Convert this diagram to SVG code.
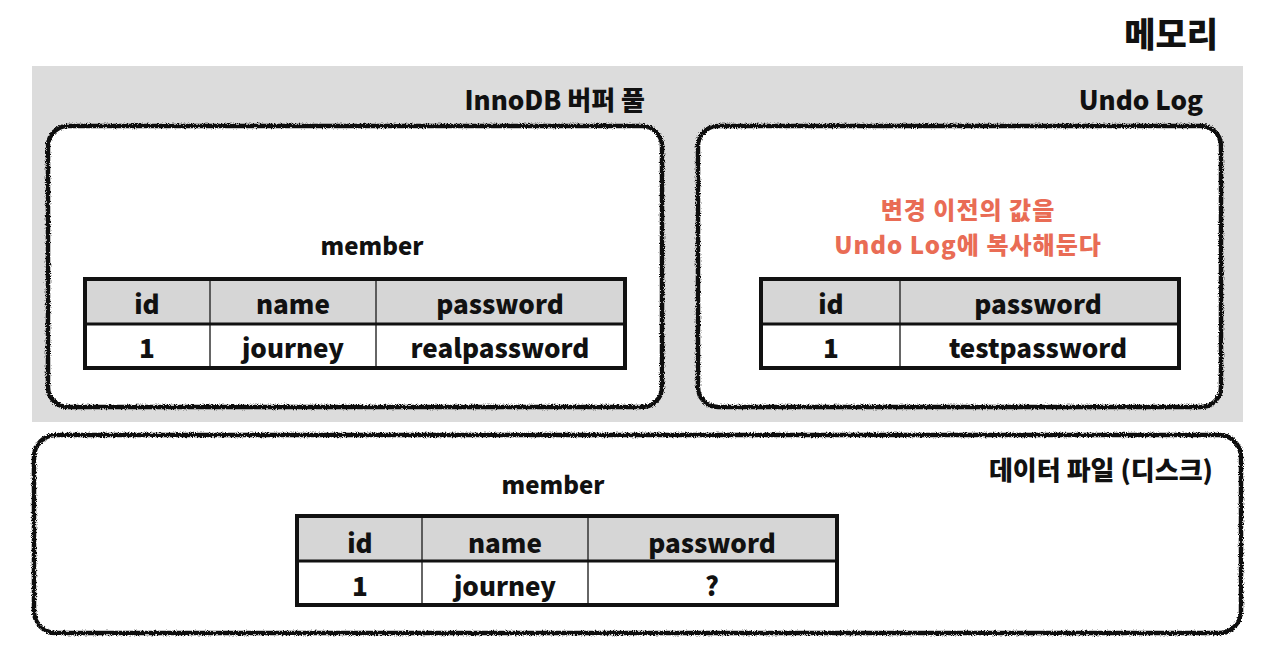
<svg xmlns="http://www.w3.org/2000/svg" width="1280" height="657" viewBox="0 0 1280 657">
<defs>
<filter id="rough" x="-5%" y="-5%" width="110%" height="110%">
<feTurbulence type="fractalNoise" baseFrequency="1.1" numOctaves="2" seed="3" result="n"/>
<feDisplacementMap in="SourceGraphic" in2="n" scale="4" xChannelSelector="R" yChannelSelector="G"/>
</filter>
</defs>
<style>
text{font-family:"Noto Sans CJK KR","Noto Sans",sans-serif;font-weight:900;fill:#111;}
.t{font-size:26px;text-anchor:middle;}
.lbl{font-size:26px;text-anchor:end;}
.red{fill:#e96c55;font-size:24px;text-anchor:middle;letter-spacing:1px;}
.box{fill:#fff;stroke:#111;stroke-width:4.5;}
.hdr{fill:#d6d6d6;}
.out{fill:none;stroke:#111;stroke-width:4;}
.vl{stroke:#333;stroke-width:1.5;}
.hl{stroke:#111;stroke-width:3;}
</style>
<rect width="1280" height="657" fill="#fff"/>
<text x="1218" y="47" style="font-size:34px;text-anchor:end;">메모리</text>
<rect x="32" y="66" width="1211" height="356" fill="#dcdcdc"/>

<g id="innodb">
<text class="lbl" x="645" y="110">InnoDB 버퍼 풀</text>
<rect class="box" x="48" y="126" width="614" height="281" rx="20" filter="url(#rough)"/>
<text class="t" x="372" y="255" style="font-size:24px">member</text>
<g id="table1">
<rect x="86" y="280" width="538" height="44" class="hdr"/>
<rect x="86" y="324" width="538" height="43" fill="#fff"/>
<line class="vl" x1="210" y1="280" x2="210" y2="367"/>
<line class="vl" x1="376" y1="280" x2="376" y2="367"/>
<line class="hl" x1="86" y1="324" x2="624" y2="324"/>
<rect class="out" x="85" y="279" width="540" height="89"/>
<text class="t" x="147" y="314">id</text>
<text class="t" x="293" y="314">name</text>
<text class="t" x="500" y="314">password</text>
<text class="t" x="147" y="358">1</text>
<text class="t" x="293" y="358">journey</text>
<text class="t" x="500" y="358">realpassword</text>
</g>
</g>

<g id="undolog">
<text class="lbl" x="1203" y="110">Undo Log</text>
<rect class="box" x="698" y="126" width="523" height="281" rx="20" filter="url(#rough)"/>
<text class="red" x="968" y="219">변경 이전의 값을</text>
<text class="red" x="968" y="254">Undo Log에 복사해둔다</text>
<g id="table2">
<rect x="762" y="280" width="416" height="44" class="hdr"/>
<rect x="762" y="324" width="416" height="43" fill="#fff"/>
<line class="vl" x1="900" y1="280" x2="900" y2="367"/>
<line class="hl" x1="762" y1="324" x2="1178" y2="324"/>
<rect class="out" x="761" y="279" width="418" height="89"/>
<text class="t" x="831" y="314">id</text>
<text class="t" x="1038" y="314">password</text>
<text class="t" x="831" y="358">1</text>
<text class="t" x="1038" y="358">testpassword</text>
</g>
</g>

<g id="disk">
<rect class="box" x="34" y="435" width="1207" height="198" rx="22" filter="url(#rough)"/>
<text class="lbl" x="1213" y="480">데이터 파일 (디스크)</text>
<text class="t" x="553" y="494" style="font-size:24px">member</text>
<g id="table3">
<rect x="298" y="517" width="538" height="44" class="hdr"/>
<rect x="298" y="561" width="538" height="43" fill="#fff"/>
<line class="vl" x1="422" y1="517" x2="422" y2="604"/>
<line class="vl" x1="588" y1="517" x2="588" y2="604"/>
<line class="hl" x1="298" y1="561" x2="836" y2="561"/>
<rect class="out" x="297" y="516" width="540" height="89"/>
<text class="t" x="360" y="553">id</text>
<text class="t" x="505" y="553">name</text>
<text class="t" x="712" y="553">password</text>
<text class="t" x="360" y="596">1</text>
<text class="t" x="505" y="596">journey</text>
<text class="t" x="712" y="596">?</text>
</g>
</g>
<g id="connectors"></g>
</svg>
